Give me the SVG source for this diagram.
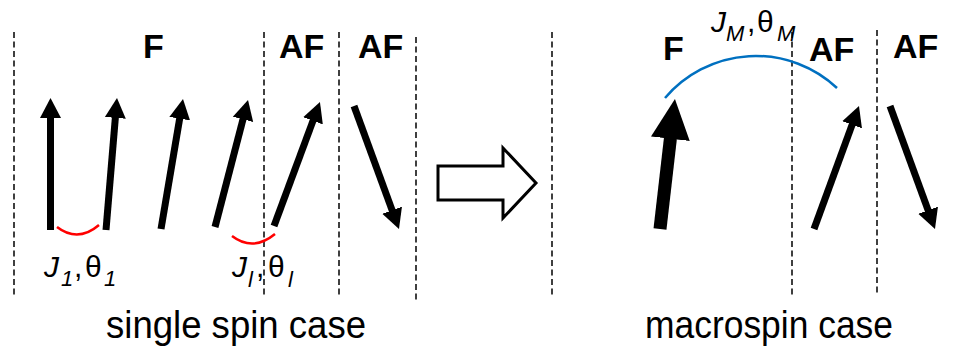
<svg xmlns="http://www.w3.org/2000/svg" width="964" height="350" viewBox="0 0 964 350">
<style>
.dash{stroke:#000;stroke-width:1.5;stroke-dasharray:6,3.5;fill:none}
.spin{stroke:#000;stroke-width:7;fill:none;marker-end:url(#head)}
.big{stroke:#000;stroke-width:13;fill:none;marker-end:url(#bighead)}
.lbl{font-family:"Liberation Sans",Arial,sans-serif;font-weight:bold;font-size:34px;fill:#000}
.math{font-family:"Liberation Sans",Arial,sans-serif;font-size:30px;fill:#000}
.sub{font-style:italic;font-size:22px}
.cap{font-family:"Liberation Sans",Arial,sans-serif;font-size:38px;fill:#000}
.it{font-style:italic}
</style>
<defs>
<marker id="head" markerUnits="userSpaceOnUse" markerWidth="22" markerHeight="22" refX="2" refY="10.5" orient="auto" viewBox="0 0 22 21">
<path d="M0,0 L20,10.5 L0,21 z" fill="#000"/>
</marker>
<marker id="bighead" markerUnits="userSpaceOnUse" markerWidth="42" markerHeight="40" refX="2" refY="19.5" orient="auto" viewBox="0 0 42 39">
<path d="M0,0 L40,19.5 L0,39 z" fill="#000"/>
</marker>
</defs>
<g id="separators">
<line class="dash" x1="14" y1="32" x2="14" y2="295"/>
<line class="dash" x1="264" y1="32" x2="264" y2="295"/>
<line class="dash" x1="339" y1="32" x2="339" y2="295"/>
<line class="dash" x1="416" y1="37" x2="416" y2="300"/>
<line class="dash" x1="552" y1="32" x2="552" y2="295"/>
<line class="dash" x1="792" y1="32" x2="792" y2="295"/>
<line class="dash" x1="877" y1="30" x2="877" y2="295"/>
</g>
<g id="labels">
<text class="lbl" x="143" y="58">F</text>
<text class="lbl" x="279" y="58">AF</text>
<text class="lbl" x="358" y="58">AF</text>
<text class="lbl" x="663" y="60">F</text>
<text class="lbl" x="809" y="61">AF</text>
<text class="lbl" x="893" y="58">AF</text>
</g>
<g id="left-spins">
<line class="spin" x1="50.5" y1="230" x2="50.5" y2="116"/>
<line class="spin" x1="106" y1="230" x2="115.5" y2="115.9"/>
<line class="spin" x1="161" y1="229" x2="180" y2="116.7"/>
<line class="spin" x1="215" y1="227" x2="243.5" y2="117.4"/>
<line class="spin" x1="274" y1="226" x2="313.7" y2="118.9"/>
<line class="spin" x1="354" y1="106" x2="392.8" y2="212.1"/>
</g>
<g id="right-spins">
<line class="big" x1="660" y1="229" x2="670.6" y2="136.7"/>
<line class="spin" x1="814" y1="229" x2="852.8" y2="122.9"/>
<line class="spin" x1="890" y1="106" x2="928.8" y2="212.1"/>
</g>
<g id="couplings">
<path d="M57,227 Q78,243 99,225" stroke="#ff0000" stroke-width="2.5" fill="none"/>
<path d="M232,236 Q253,252 275,234" stroke="#ff0000" stroke-width="2.5" fill="none"/>
<path d="M665,98 A119,119 0 0 1 837,88" stroke="#0070c0" stroke-width="2.5" fill="none"/>
</g>
<g id="coupling-labels">
<text class="math"><tspan class="it" x="44" y="277">J</tspan><tspan class="sub" x="61" y="286">1</tspan><tspan x="74" y="277">,</tspan><tspan x="85" y="277">θ</tspan><tspan class="sub" x="104" y="286">1</tspan></text>
<text class="math"><tspan class="it" x="232" y="277">J</tspan><tspan class="sub" x="248" y="287">l</tspan><tspan x="256" y="277">,</tspan><tspan x="268" y="277">θ</tspan><tspan class="sub" x="288" y="287">l</tspan></text>
<text class="math"><tspan class="it" x="711" y="32">J</tspan><tspan class="sub" x="726" y="41">M</tspan><tspan x="747" y="32">,</tspan><tspan x="757" y="32">θ</tspan><tspan class="sub" x="777" y="41">M</tspan></text>
</g>
<g id="transform-arrow">
<path d="M438,166 L503,166 L503,148 L536,183 L503,218 L503,200 L438,200 z" fill="#fff" stroke="#000" stroke-width="3"/>
</g>
<g id="captions">
<text class="cap" x="106" y="338" textLength="260" lengthAdjust="spacingAndGlyphs">single spin case</text>
<text class="cap" x="645" y="338" textLength="248" lengthAdjust="spacingAndGlyphs">macrospin case</text>
</g>
</svg>
